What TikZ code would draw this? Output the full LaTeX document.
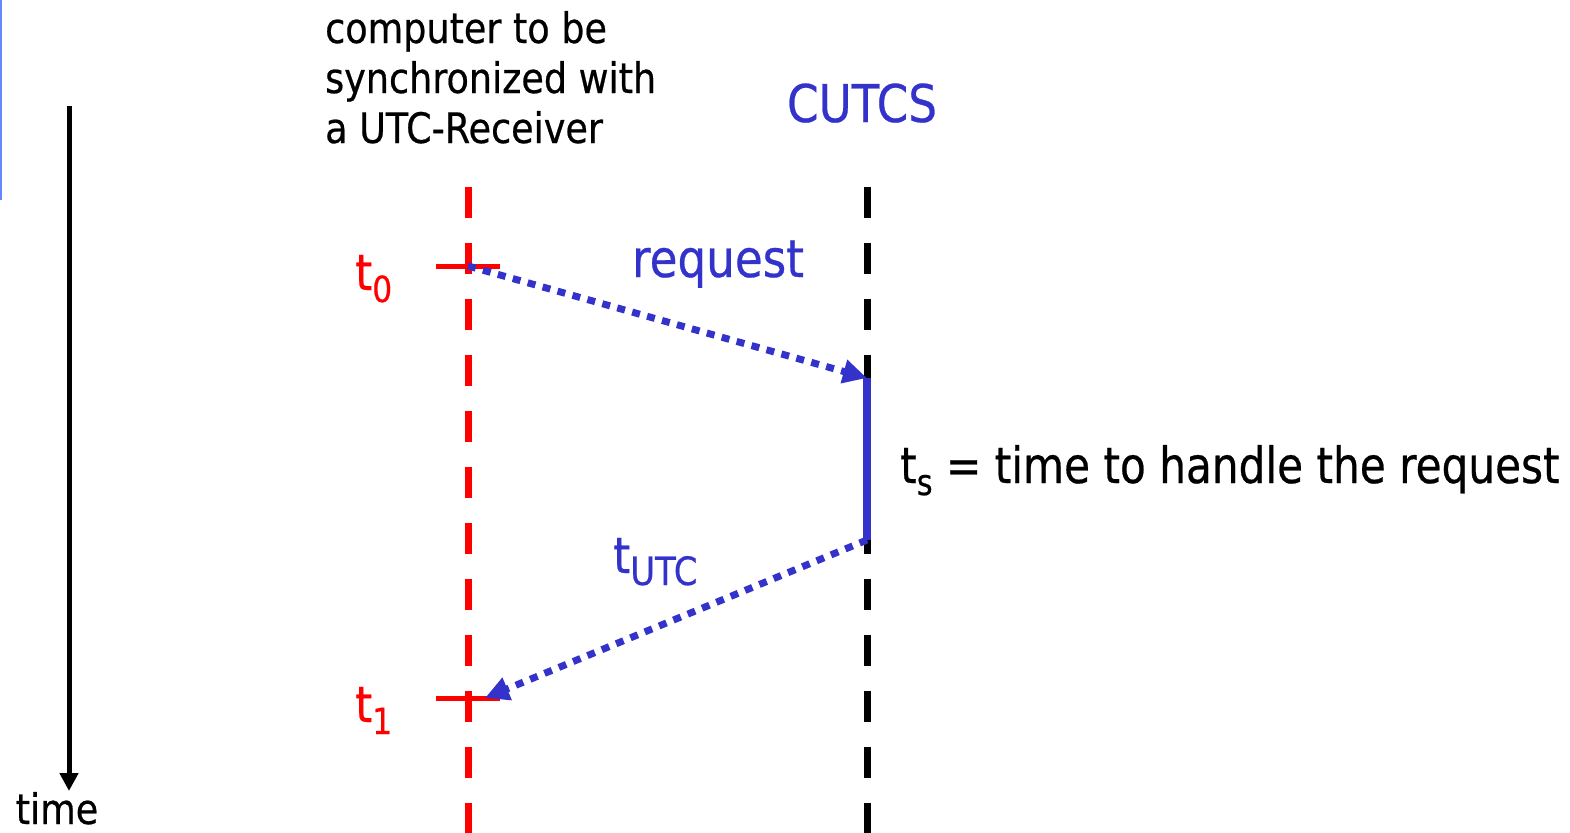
\documentclass[tikz,border=0pt]{standalone}
\usepackage{graphicx}
\usepackage{fontspec}
\setmainfont{DejaVu Sans}[FakeStretch=0.87,FakeBold=0.5]
\usetikzlibrary{arrows.meta}
\definecolor{msgblue}{HTML}{3333CC}
\definecolor{edgeblue}{HTML}{6688FF}
\newcommand{\sbs}[1]{\raisebox{-0.24em}{\scalebox{0.72}{#1}}}
\begin{document}
\begin{tikzpicture}[x=1bp,y=-1bp,
  lifeline/.style={line width=7bp, dash pattern=on 31bp off 25bp},
  msg/.style={draw=msgblue, line width=7bp, dash pattern=on 8bp off 7.5bp,
    -{Triangle[length=24bp,width=23bp]}},
  evtick/.style={red, line width=5bp},
  big/.style={font=\fontsize{52bp}{60bp}\selectfont, inner sep=0pt},
  small/.style={font=\fontsize{42bp}{50bp}\selectfont, inner sep=0pt},
  mid/.style={font=\fontsize{50bp}{58bp}\selectfont, inner sep=0pt}]
\useasboundingbox (0,0) rectangle (1570,832);

% thin rule at the left edge
\coordinate (e1) at (1,0);
\coordinate (e2) at (1,200);
\draw[edgeblue, line width=2bp] (e1) -- (e2);

% time axis
\coordinate (ta) at (69,106);
\coordinate (tb) at (69,791);
\draw[line width=5bp, -{Triangle[length=18bp,width=18bp]}] (ta) -- (tb);
\node[small, anchor=base] (timelbl) at (57,824) {time};

% lifelines
\coordinate (ctop) at (468,187);
\coordinate (cbot) at (468,834);
\coordinate (stop) at (867,187);
\coordinate (sbot) at (867,834);
\draw[lifeline, red] (ctop) -- (cbot);
\draw[lifeline, black] (stop) -- (sbot);

% events
\coordinate (t0) at (468,266);
\coordinate (t1) at (468,698);
\coordinate (rq) at (867,378);
\coordinate (rp) at (867,540);
\draw[evtick] ([xshift=-32bp]t0) -- ([xshift=32bp]t0);
\draw[evtick] ([xshift=-32bp]t1) -- ([xshift=32bp]t1);

% service interval
\draw[msgblue, line width=8bp] (rq) -- (rp);

% messages
\draw[msg] (t0) -- (rq);
\draw[msg] (rp) -- ([xshift=17bp]t1);

% labels
\node[small, anchor=base west] (c1) at (325,43) {computer to be};
\node[small, anchor=base west] (c2) at (325,93) {synchronized with};
\node[small, anchor=base west] (c3) at (325,143) {a UTC-Receiver};
\node[big, anchor=base, text=msgblue] (srv) at (862,122) {CUTCS};
\node[big, anchor=base, text=msgblue] (reqlbl) at (718,277) {request};
\node[mid, anchor=base west, text=red] (t0lbl) at (355,290) {t\sbs{0}};
\node[mid, anchor=base west, text=red] (t1lbl) at (355,722) {t\sbs{1}};
\node[mid, anchor=base west, text=msgblue] (utc) at (613,573) {t\raisebox{-0.24em}{\scalebox{0.78}{UTC}}};
\node[mid, anchor=base west] (ts) at (900,483) {\scalebox{0.97}[1]{t\sbs{s} = time to handle the request}};
\end{tikzpicture}
\end{document}
